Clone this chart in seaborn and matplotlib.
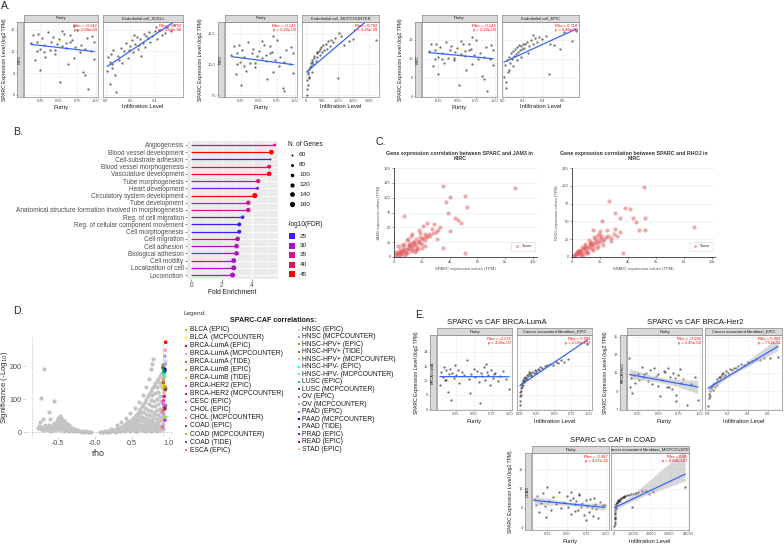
import numpy as np
import pandas as pd
import seaborn as sns
import matplotlib.pyplot as plt
from matplotlib.colors import LinearSegmentedColormap, Normalize
from matplotlib.collections import PolyCollection

sns.set_theme(style="ticks")
plt.rcParams["font.family"] = ["Liberation Sans", "DejaVu Sans"]

W, H = 784, 545

# ---------------- data ----------------
# A: KIRC, SPARC vs purity (same samples in all three A panels)
kirc_purity = [0.12, 0.15, 0.18, 0.2, 0.22, 0.24, 0.25, 0.27, 0.3, 0.32, 0.35, 0.38, 0.4, 0.42, 0.45,
               0.47, 0.5, 0.52, 0.55, 0.57, 0.6, 0.62, 0.65, 0.68, 0.7, 0.72, 0.75, 0.78, 0.8, 0.83,
               0.85, 0.88, 0.9, 0.93, 0.95, 0.98, 0.55, 0.6, 0.3, 0.7, 0.45, 0.85, 0.97, 0.2, 0.65]
kirc_sparc_p = [10.8, 11.5, 9.2, 10.9, 11.6, 10.2, 8.3, 11.2, 10.6, 9.5, 11.8, 10.1, 10.9, 11.3, 9.8,
                10.7, 11.1, 7.2, 10.5, 11.6, 10.3, 8.8, 10.9, 11.0, 9.4, 10.4, 12.0, 9.9, 10.6, 8.1,
                10.2, 11.2, 6.5, 10.0, 11.4, 9.3, 11.9, 10.8, 9.9, 12.3, 10.1, 7.8, 10.9, 10.0, 11.5]
endo_xcell = [0.01, 0.02, 0.03, 0.04, 0.05, 0.06, 0.08, 0.1, 0.12, 0.13, 0.15, 0.16, 0.18, 0.2, 0.21,
              0.22, 0.24, 0.25, 0.26, 0.28, 0.3, 0.31, 0.32, 0.34, 0.35, 0.36, 0.38, 0.4, 0.42, 0.44,
              0.46, 0.48, 0.5, 0.53, 0.56, 0.03, 0.07, 0.11, 0.19, 0.27, 0.33, 0.41, 0.05, 0.23, 0.29]
sparc_xcell = [8.2, 9.5, 7.0, 9.8, 8.8, 10.1, 6.3, 9.6, 10.3, 8.9, 10.0, 10.8, 9.4, 10.5, 11.0,
               9.9, 10.7, 11.3, 10.2, 11.1, 10.8, 11.6, 10.4, 11.2, 11.8, 10.9, 11.4, 11.9, 11.1, 12.0,
               11.5, 11.7, 12.2, 11.9, 12.4, 9.0, 7.8, 9.2, 10.1, 10.6, 11.4, 12.2, 8.5, 11.5, 9.6]
endo_mcp = [10, 20, 30, 40, 60, 80, 100, 120, 150, 180, 200, 230, 260, 300, 330,
            360, 400, 430, 470, 500, 540, 580, 620, 660, 700, 750, 800, 850, 900, 1000,
            1100, 1200, 1350, 1500, 2200, 15, 50, 90, 140, 250, 350, 450, 1050, 70, 180]
sparc_mcp = [6.8, 8.0, 8.7, 7.5, 9.2, 9.6, 8.9, 9.8, 10.1, 9.4, 10.4, 10.0, 10.7, 10.3, 11.0,
             10.6, 11.1, 10.8, 11.4, 11.0, 11.6, 11.2, 11.7, 11.3, 11.9, 11.5, 12.0, 11.8, 12.2, 8.9,
             12.3, 11.6, 11.9, 12.1, 12.0, 7.2, 8.3, 9.0, 9.9, 10.5, 10.9, 11.3, 12.6, 9.4, 10.2]
endo_epic = [0.01, 0.02, 0.03, 0.04, 0.05, 0.06, 0.07, 0.08, 0.09, 0.1, 0.11, 0.12, 0.13, 0.14, 0.15,
             0.16, 0.17, 0.18, 0.19, 0.2, 0.21, 0.22, 0.24, 0.26, 0.28, 0.3, 0.32, 0.34, 0.36, 0.4,
             0.44, 0.48, 0.52, 0.58, 0.62, 0.7, 0.74, 0.03, 0.06, 0.1, 0.14, 0.18, 0.25, 0.3, 0.47]
sparc_epic = [8.0, 9.3, 7.5, 9.8, 8.6, 10.2, 9.5, 10.6, 9.9, 10.8, 10.3, 11.0, 10.5, 11.2, 10.7,
              11.4, 10.9, 11.3, 11.0, 11.6, 11.1, 11.5, 11.8, 11.3, 12.0, 11.6, 12.2, 11.8, 12.3, 12.1,
              12.4, 11.6, 11.4, 11.0, 12.8, 11.9, 12.9, 6.9, 8.8, 9.2, 9.8, 10.2, 10.6, 12.5, 8.4]

# B: GO enrichment
go_terms = ["Angiogenesis", "Blood vessel development", "Cell-substrate adhesion",
            "Blood vessel morphogenesis", "Vasculature development", "Tube morphogenesis",
            "Heart development", "Circulatory system development", "Tube development",
            "Anatomical structure formation involved in morphogenesis", "Reg. of cell migration",
            "Reg. of cellular component movement", "Cell morphogenesis", "Cell migration",
            "Cell adhesion", "Biological adhesion", "Cell motility", "Localization of cell", "Locomotion"]
fold_enrichment = [5.49, 5.27, 5.2, 5.12, 5.12, 4.4, 4.36, 4.18, 3.75, 3.75, 3.38, 3.16, 3.16,
                   3.05, 2.98, 2.98, 2.8, 2.8, 2.72]
n_genes = [75, 140, 60, 110, 140, 120, 80, 160, 130, 130, 100, 110, 110, 135, 135, 135, 145, 150, 150]
neg_log_fdr = [38, 45, 25, 41, 44, 37, 28, 46, 35, 35, 26, 25, 25, 31, 32, 32, 31, 31, 31]
gene_legend = [60, 80, 100, 120, 140, 160]
fdr_legend = [25, 30, 35, 40, 45]

# C: GEPIA correlations in KIRC (TPM)
jam3_sparc = [100, 200, 300, 400, 500, 600, 700, 800, 900, 1000, 1100, 1200, 1300, 1400, 1500, 1600,
              1700, 1800, 1900, 2000, 2100, 2200, 2300, 2400, 2500, 2600, 2800, 3000, 3200,
              400, 700, 1000, 1300, 1600, 1900, 2200, 2700, 3100, 800, 1400, 2000, 300, 1100,
              1500, 1800, 2100, 2400, 600, 900, 1200,
              700, 3520, 4000, 5140, 5240, 8710, 3710, 3880, 5140, 3500, 4000, 4360, 4830, 4600, 2900, 3300,
              250, 450, 650, 850, 1050, 1250, 1450, 1650, 1850, 2050, 2250, 150, 350, 550, 750, 950,
              1150, 1350, 1550, 1750]
jam3_expr = [2, 5, 4, 8, 7, 10, 12, 9, 14, 13, 16, 18, 15, 20, 22, 19,
             25, 27, 24, 30, 32, 28, 35, 33, 38, 36, 40, 42, 45,
             14, 22, 30, 38, 12, 40, 18, 48, 30, 3, 25, 15, 18, 20,
             8, 45, 52, 58, 20, 28, 35,
             69, 120, 101, 102, 85, 116, 92, 74, 6, 15, 43, 65, 57, 62, 55, 50,
             6, 3, 11, 6, 20, 10, 26, 14, 33, 22, 38, 8, 9, 5, 17, 6,
             24, 11, 31, 16]
rhoj_sparc = [100, 200, 300, 400, 500, 600, 700, 800, 900, 1000, 1100, 1200, 1300, 1400, 1500, 1600,
              1700, 1800, 1900, 2000, 2100, 2200, 2400, 2600, 2800, 3000, 3200, 3400,
              400, 700, 1000, 1300, 1600, 1900, 2200, 2500, 2800, 3100,
              600, 900, 1200, 1500, 1800, 2000, 2300, 1500,
              2650, 3800, 4130, 5130, 5200, 8680, 5200, 4790, 3620, 2130, 3430, 3090, 4370, 4600,
              250, 450, 650, 850, 1050, 1250, 1450, 1650, 1850, 2050, 150, 350, 550, 750, 950, 1150, 1350, 1750]
rhoj_expr = [2, 3, 5, 4, 7, 8, 6, 10, 12, 9, 14, 13, 16, 18, 15, 20,
             22, 19, 24, 21, 26, 23, 28, 30, 27, 33, 29, 35,
             9, 14, 5, 20, 28, 33, 17, 38, 22, 40,
             4, 18, 24, 10, 30, 36, 25, 38,
             79, 69, 68, 98, 55, 42, 38, 38, 5, 51, 55, 62, 55, 49,
             4, 8, 3, 13, 7, 18, 11, 25, 15, 30, 1, 6, 10, 3, 15, 5, 21, 12]

# D: pan-cancer volcano (rho, -log10 p)
volcano_right = [(0.08, 0.5), (0.10, 1), (0.12, 0.5), (0.14, 2), (0.16, 1), (0.18, 3), (0.20, 1), (0.20, 4),
                 (0.22, 2), (0.24, 5), (0.26, 3), (0.26, 7), (0.28, 1), (0.28, 5), (0.30, 9), (0.30, 3),
                 (0.32, 6), (0.32, 12), (0.34, 2), (0.34, 9), (0.36, 15), (0.36, 5), (0.38, 11), (0.38, 18),
                 (0.40, 3), (0.40, 8), (0.40, 14), (0.40, 21), (0.42, 25), (0.42, 12), (0.44, 5), (0.44, 18),
                 (0.44, 29), (0.46, 10), (0.46, 24), (0.46, 33), (0.48, 2), (0.48, 15), (0.48, 30), (0.50, 8),
                 (0.50, 22), (0.50, 38), (0.52, 14), (0.52, 30), (0.52, 44), (0.54, 4), (0.54, 20), (0.54, 36),
                 (0.54, 50), (0.56, 10), (0.56, 28), (0.56, 45), (0.58, 3), (0.58, 18), (0.58, 38), (0.58, 56),
                 (0.60, 8), (0.60, 25), (0.60, 48), (0.60, 63), (0.62, 14), (0.62, 35), (0.62, 58), (0.62, 70),
                 (0.64, 5), (0.64, 22), (0.64, 45), (0.64, 78), (0.66, 12), (0.66, 32), (0.66, 60), (0.66, 85),
                 (0.68, 3), (0.68, 20), (0.68, 42), (0.68, 72), (0.68, 92), (0.70, 10), (0.70, 30), (0.70, 55),
                 (0.70, 100), (0.72, 6), (0.72, 18), (0.72, 40), (0.72, 68), (0.72, 108), (0.74, 12), (0.74, 28),
                 (0.74, 52), (0.74, 85), (0.74, 116), (0.76, 4), (0.76, 22), (0.76, 38), (0.76, 65), (0.76, 98),
                 (0.76, 124), (0.78, 10), (0.78, 30), (0.78, 50), (0.78, 80), (0.78, 112), (0.78, 132), (0.80, 6),
                 (0.80, 18), (0.80, 42), (0.80, 62), (0.80, 95), (0.80, 140), (0.82, 12), (0.82, 28), (0.82, 55),
                 (0.82, 78), (0.82, 118), (0.82, 148), (0.84, 4), (0.84, 20), (0.84, 40), (0.84, 68), (0.84, 100),
                 (0.84, 135), (0.84, 155), (0.86, 10), (0.86, 30), (0.86, 52), (0.86, 85), (0.86, 122), (0.86, 162),
                 (0.88, 6), (0.88, 18), (0.88, 45), (0.88, 70), (0.88, 110), (0.88, 150), (0.88, 170), (0.90, 12),
                 (0.90, 35), (0.90, 60), (0.90, 95), (0.90, 140), (0.90, 175), (0.92, 8), (0.92, 25), (0.92, 50),
                 (0.92, 130),
                 (0.22, 10), (0.30, 20), (0.36, 30), (0.42, 44), (0.48, 58), (0.54, 74), (0.60, 92), (0.65, 112),
                 (0.70, 135), (0.73, 160), (0.76, 190), (0.78, 205), (0.79, 222)]
volcano_left = [(-0.05, 0.5), (-0.07, 1), (-0.09, 0.5), (-0.11, 2), (-0.13, 1), (-0.15, 3), (-0.17, 1),
                (-0.19, 4), (-0.21, 2), (-0.23, 6), (-0.25, 3), (-0.27, 8), (-0.29, 2), (-0.29, 10), (-0.31, 5),
                (-0.31, 13), (-0.33, 8), (-0.33, 16), (-0.35, 3), (-0.35, 12), (-0.35, 20), (-0.37, 6),
                (-0.37, 17), (-0.37, 24), (-0.39, 10), (-0.39, 22), (-0.39, 28), (-0.41, 4), (-0.41, 15),
                (-0.41, 33), (-0.43, 8), (-0.43, 20), (-0.43, 38), (-0.45, 12), (-0.45, 28), (-0.45, 44),
                (-0.47, 5), (-0.47, 18), (-0.47, 35), (-0.47, 50), (-0.49, 10), (-0.49, 25), (-0.49, 42),
                (-0.51, 15), (-0.51, 32), (-0.53, 6), (-0.53, 20), (-0.55, 12), (-0.55, 26), (-0.57, 8),
                (-0.57, 18), (-0.59, 4), (-0.59, 14), (-0.61, 10), (-0.61, 22), (-0.63, 6), (-0.63, 16),
                (-0.65, 12), (-0.67, 8), (-0.67, 20), (-0.69, 5), (-0.71, 14), (-0.73, 10), (-0.75, 18),
                (-0.77, 12), (-0.74, 30), (-0.70, 40), (-0.62, 60), (-0.55, 95), (-0.72, 103), (-0.69, 192),
                (-0.60, 40)]
caf_names = ["BLCA (EPIC)", "BLCA  (MCPCOUNTER)", "BRCA-LumA (EPIC)", "BRCA-LumA (MCPCOUNTER)",
             "BRCA-LumA (TIDE)", "BRCA-LumB (EPIC)", "BRCA-LumB (TIDE)", "BRCA-HER2 (EPIC)",
             "BRCA-HER2 (MCPCOUNTER)", "CESC (EPIC)", "CHOL (EPIC)", "CHOL (MCPCOUNTER)", "COAD (EPIC)",
             "COAD (MCPCOUNTER)", "COAD (TIDE)", "ESCA (EPIC)",
             "HNSC (EPIC)", "HNSC (MCPCOUNTER)", "HNSC-HPV+ (EPIC)", "HNSC-HPV+ (TIDE)",
             "HNSC-HPV+ (MCPCOUNTER)", "HNSC-HPV- (EPIC)", "HNSC-HPV- (MCPCOUNTER)", "LUSC (EPIC)",
             "LUSC (MCPCOUNTER)", "OV (EPIC)", "OV (MCPCOUNTER)", "PAAD (EPIC)", "PAAD (MCPCOUNTER)",
             "PAAD (TIDE)", "PRAD (EPIC)", "READ (EPIC)", "STAD (EPIC)"]
caf_colors = ["#b5c400", "#ffee00", "#ff0000", "#ff99cc", "#ff5522", "#ff6633", "#ff9944", "#cc33ff",
              "#e6007e", "#ff3399", "#99aaff", "#ff6680", "#556b2f", "#d4a017", "#8b5a2b", "#e87080",
              "#ccccff", "#9999ff", "#88aa33", "#996633", "#99dd66", "#00ffff", "#66dddd", "#22cc44",
              "#118833", "#cc66cc", "#cc99dd", "#9966ff", "#000080", "#8833aa", "#1144aa", "#aa2222",
              "#ffbb88"]
caf_rho = [0.95, 0.93, 0.96, 0.955, 0.93, 0.94, 0.93, 0.95, 0.94, 0.93, 0.95, 0.92, 0.96, 0.95, 0.955,
           0.92, 0.96, 0.955, 0.935, 0.93, 0.96, 0.94, 0.945, 0.93, 0.925, 0.93, 0.935, 0.96, 0.95, 0.945,
           0.95, 0.95, 0.94]
caf_sig = [40, 140, 272, 248, 203, 75, 160, 36, 108, 95, 230, 62, 132, 138, 128, 15, 215, 205, 188, 150,
           45, 176, 168, 182, 195, 85, 55, 80, 190, 70, 185, 72, 118]

# E: SPARC vs CAF
luma_purity = [0.03, 0.05, 0.07, 0.09, 0.1, 0.12, 0.14, 0.15, 0.17, 0.19, 0.2, 0.22, 0.24, 0.26, 0.28,
               0.3, 0.33, 0.36, 0.4, 0.43, 0.46, 0.5, 0.52, 0.55, 0.57, 0.6, 0.62, 0.64, 0.66, 0.68,
               0.7, 0.72, 0.74, 0.76, 0.78, 0.8, 0.83, 0.86, 0.9, 0.95, 0.99, 0.12, 0.58, 0.67, 0.45]
luma_sparc_p = [9.3, 11.2, 10.5, 11.8, 10.0, 11.4, 8.4, 10.9, 11.6, 7.3, 11.0, 10.3, 12.1, 10.7, 11.5,
                9.6, 11.2, 10.8, 12.8, 10.2, 10.9, 11.6, 10.5, 11.3, 9.8, 11.0, 10.6, 11.8, 10.1, 11.2,
                10.7, 9.4, 11.5, 10.3, 10.9, 11.1, 9.9, 10.6, 11.3, 10.2, 8.8, 10.0, 6.9, 12.3, 8.3]
luma_caf = [0.0, 0.005, 0.01, 0.01, 0.015, 0.02, 0.02, 0.03, 0.03, 0.04, 0.05, 0.06, 0.07, 0.08, 0.09,
            0.1, 0.12, 0.13, 0.15, 0.16, 0.18, 0.2, 0.22, 0.24, 0.26, 0.28, 0.3, 0.33, 0.36, 0.4,
            0.44, 0.48, 0.52, 0.55, 0.6, 0.65, 0.7, 0.98, 0.04, 0.11, 0.17, 0.23, 0.06, 0.02, 0.14]
luma_sparc_c = [6.6, 7.2, 7.8, 8.4, 8.0, 8.9, 9.3, 9.6, 9.1, 9.9, 10.1, 10.3, 10.0, 10.5, 10.4,
                10.7, 10.6, 10.9, 11.0, 10.8, 11.2, 11.1, 11.4, 11.3, 11.6, 11.5, 11.8, 11.7, 12.0, 12.1,
                12.3, 12.2, 12.6, 12.4, 12.9, 12.5, 13.0, 15.0, 9.4, 10.2, 10.6, 11.0, 9.8, 8.6, 11.2]
her2_purity = [0.15, 0.16, 0.18, 0.2, 0.22, 0.25, 0.27, 0.3, 0.32, 0.35, 0.37, 0.4, 0.42, 0.45, 0.47,
               0.5, 0.52, 0.55, 0.57, 0.6, 0.62, 0.64, 0.66, 0.68, 0.7, 0.72, 0.74, 0.76, 0.78, 0.8,
               0.85, 0.9, 0.95, 0.98, 0.17, 0.33, 0.5, 0.58, 0.63, 0.71]
her2_sparc_p = [12.7, 9.4, 8.8, 10.8, 9.9, 10.9, 10.2, 11.7, 10.5, 11.0, 10.1, 11.3, 9.8, 11.6, 10.7,
                10.9, 8.4, 10.2, 11.2, 9.5, 11.5, 10.6, 9.2, 11.0, 10.4, 8.6, 10.8, 11.4, 9.9, 10.3,
                7.4, 9.8, 10.5, 8.0, 10.4, 10.9, 9.6, 11.1, 9.4, 7.9]
her2_caf = [0.0, 0.01, 0.01, 0.02, 0.02, 0.03, 0.04, 0.05, 0.06, 0.07, 0.08, 0.09, 0.1, 0.11, 0.12,
            0.13, 0.14, 0.15, 0.16, 0.18, 0.2, 0.22, 0.24, 0.26, 0.28, 0.3, 0.33, 0.36, 0.4, 0.44,
            0.48, 0.52, 0.56, 0.62, 0.7, 0.05, 0.09, 0.17]
her2_sparc_c = [7.3, 8.2, 8.7, 9.0, 8.5, 9.3, 9.6, 9.1, 9.9, 9.5, 10.0, 10.3, 10.1, 10.6, 10.4,
                10.7, 10.9, 11.0, 10.6, 11.2, 11.0, 11.4, 11.3, 11.6, 11.5, 11.8, 12.0, 11.9, 12.2, 12.3,
                12.5, 12.4, 12.7, 12.6, 12.8, 9.8, 9.7, 10.8]
coad_purity = [0.08, 0.1, 0.12, 0.15, 0.17, 0.2, 0.22, 0.25, 0.27, 0.3, 0.33, 0.36, 0.4, 0.43, 0.46,
               0.5, 0.52, 0.54, 0.56, 0.58, 0.6, 0.62, 0.64, 0.66, 0.68, 0.7, 0.72, 0.74, 0.76, 0.78,
               0.8, 0.82, 0.84, 0.86, 0.88, 0.9, 0.93, 0.96, 0.99, 0.23, 0.55, 0.65, 0.75, 0.85, 0.6]
coad_sparc_p = [9.8, 8.6, 10.4, 7.2, 9.1, 11.0, 8.3, 12.3, 9.5, 7.6, 10.2, 8.9, 11.4, 7.9, 9.3,
                10.5, 8.1, 9.7, 6.8, 10.1, 8.7, 9.4, 7.5, 10.8, 8.2, 9.0, 6.6, 9.6, 8.4, 7.1,
                9.9, 8.0, 6.4, 8.8, 7.7, 5.8, 9.2, 8.5, 8.6, 6.2, 11.2, 10.6, 5.4, 10.0, 7.3]
coad_caf = [50, 100, 150, 200, 250, 300, 400, 500, 600, 700, 800, 1000, 1200, 1500, 1800,
            2100, 2500, 3000, 3500, 4000, 4500, 5000, 5500, 6000, 7000, 8000, 9000, 10000, 11000, 17000,
            19000, 21000, 38500, 9500, 300, 150, 450, 900, 2000, 3000, 13000, 15000, 12000]
coad_sparc_c = [4.2, 5.0, 5.6, 6.2, 6.8, 7.3, 7.6, 8.0, 8.3, 8.5, 8.7, 8.9, 9.1, 9.3, 9.4,
                9.6, 9.7, 9.9, 10.0, 10.1, 10.2, 10.3, 10.4, 10.5, 10.6, 10.7, 10.8, 10.9, 11.0, 11.5,
                10.9, 11.2, 12.3, 8.2, 5.8, 4.6, 7.0, 8.0, 9.2, 9.5, 11.3, 11.6, 11.1]


# ---------------- layout helpers ----------------
def px_rect(x0, y0, x1, y1):
    return [x0 / W, 1 - y1 / H, (x1 - x0) / W, (y1 - y0) / H]


fig = plt.figure(figsize=(W / 100, H / 100), dpi=100)
ov = fig.add_axes([0, 0, 1, 1])
ov.set_axis_off()
ov.set_xlim(0, W)
ov.set_ylim(H, 0)
ov.set_zorder(10)


def style_strip(ax):
    ax.set_facecolor("#d9d9d9")
    ax.set_xticks([])
    ax.set_yticks([])
    for s in ax.spines.values():
        s.set_color("#8c8c8c")
        s.set_linewidth(0.5)


def timer_panel(ylab_x, row_box, row_label, boxes, specs, ylim, yticks, ytl, xlab_y, strip_h=7, ci=None):
    for box, sp in zip(boxes, specs):
        x0, y0, x1, y1 = box
        ax = fig.add_axes(px_rect(*box))
        ax.set_facecolor("white")
        sns.regplot(x=sp["x"], y=sp["y"], ax=ax, ci=ci, seed=0, n_boot=300,
                    scatter_kws=dict(s=2.8, color="#1a1a1a", alpha=0.6, linewidths=0),
                    line_kws=dict(color="#3366ff", lw=0.9))
        for c in ax.collections:
            if isinstance(c, PolyCollection):
                c.set_facecolor("#8f8f8f")
                c.set_alpha(0.35)
        ax.set_xlim(sp["xlim"])
        ax.set_ylim(ylim)
        ax.set_xticks(sp["xticks"], sp["xtl"])
        ax.set_yticks(yticks)
        ax.set_yticklabels([])
        ax.tick_params(axis="x", bottom=True, labelsize=2.8, length=1.0, width=0.4, pad=0.5,
                       colors="#4d4d4d")
        ax.tick_params(axis="y", left=False)
        ax.grid(True, color="#ebebeb", lw=0.4)
        ax.set_axisbelow(True)
        ax.set_xlabel("")
        ax.set_ylabel("")
        for s in ax.spines.values():
            s.set_visible(True)
            s.set_color("#8c8c8c")
            s.set_linewidth(0.5)
        ax.text(0.98, 0.97, sp["stats"], transform=ax.transAxes, ha="right", va="top",
                color="red", fontsize=3, linespacing=0.95)
        sax = fig.add_axes(px_rect(x0, y0 - strip_h, x1, y0))
        style_strip(sax)
        sax.text(0.5, 0.5, sp["strip"], ha="center", va="center", fontsize=3, color="#1a1a1a",
                 transform=sax.transAxes, clip_on=True)
        ov.text((x0 + x1) / 2, xlab_y, sp["xlabel"], ha="center", va="center", fontsize=4.2,
                color="#1a1a1a")
    rax = fig.add_axes(px_rect(*row_box))
    style_strip(rax)
    rax.set_ylim(ylim)
    rax.set_yticks(yticks, ytl)
    rax.tick_params(axis="y", left=True, labelsize=2.8, length=1.0, width=0.4, pad=0.6, colors="#4d4d4d")
    rax.text(0.5, 0.5, row_label, rotation=90, ha="center", va="center", fontsize=2.8,
             color="#1a1a1a", transform=rax.transAxes, clip_on=True)
    ov.text(ylab_x, (row_box[1] + row_box[3]) / 2, "SPARC Expression Level (log2 TPM)", rotation=90,
            ha="center", va="center", fontsize=3.6, color="#1a1a1a")


purity_ticks = [0.25, 0.5, 0.75, 1.0]
purity_tl = ["0.25", "0.50", "0.75", "1.00"]
kirc_p_spec = dict(x=kirc_purity, y=kirc_sparc_p, xlim=(0.03, 1.03), xticks=purity_ticks, xtl=purity_tl,
                   strip="Purity", stats="Rho = -0.142\np = 2.28e-03", xlabel="Purity")

# ---------------- A ----------------
ov.text(1, 6, "A.", fontsize=7.5, ha="left", va="center")
timer_panel(4.5, (17, 22, 23, 97), "KIRC", [(24, 22, 98, 97), (103, 22, 183, 97)],
            [kirc_p_spec,
             dict(x=endo_xcell, y=sparc_xcell, xlim=(-0.025, 0.63), xticks=[0, 0.2, 0.4],
                  xtl=["0.0", "0.2", "0.4"], strip="Endothelial cell_XCELL",
                  stats="Rho = 0.752\np = 3.66e-96", xlabel="Infiltration Level")],
            (5.8, 12.7), [6, 8, 10, 12], ["6", "8", "10", "12"], 107)
timer_panel(201, (218, 22, 224, 97), "KIRC", [(225, 22, 297, 97), (302, 22, 379, 97)],
            [kirc_p_spec,
             dict(x=endo_mcp, y=sparc_mcp, xlim=(-130, 2310), xticks=[0, 500, 1000, 1500, 2000],
                  xtl=["0", "500", "1000", "1500", "2000"], strip="Endothelial cell_MCPCOUNTER",
                  stats="Rho = 0.762\np = 3.36e-99", xlabel="Infiltration Level")],
            (7.34, 13.47), [7.5, 10, 12.5], ["7.5", "10.0", "12.5"], 107)
timer_panel(401, (415, 22, 421, 97), "KIRC", [(422, 22, 497, 97), (502, 22, 579, 97)],
            [kirc_p_spec,
             dict(x=endo_epic, y=sparc_epic, xlim=(-0.01, 0.77), xticks=[0, 0.2, 0.4, 0.6],
                  xtl=["0.0", "0.2", "0.4", "0.6"], strip="Endothelial cell_EPIC",
                  stats="Rho = 0.718\np = 2.46e-84", xlabel="Infiltration Level")],
            (5.9, 13.9), [6, 8, 10, 12], ["6", "8", "10", "12"], 107)

# ---------------- B ----------------
ov.text(13, 132, "B.", fontsize=7.5, ha="left", va="center")
fdr_cmap = LinearSegmentedColormap.from_list(
    "fdr", [(0, "#3b1cff"), (0.25, "#a010d8"), (0.5, "#d4109f"), (0.75, "#f0085c"), (1, "#ff0000")])
fdr_norm = Normalize(25, 45)
df_b = pd.DataFrame(dict(term=go_terms, fold=fold_enrichment, genes=n_genes, fdr=neg_log_fdr))
df_b["pos"] = range(len(df_b))
ax_b = fig.add_axes(px_rect(187, 141, 278, 279))
ax_b.set_facecolor("#ebebeb")
ax_b.hlines(df_b["pos"], 0, df_b["fold"], colors=[fdr_cmap(fdr_norm(v)) for v in df_b["fdr"]],
            lw=0.9, zorder=2)
sns.scatterplot(data=df_b, x="fold", y="pos", hue="fdr", palette=fdr_cmap, hue_norm=fdr_norm,
                size="genes", sizes=(2, 14), size_norm=(60, 160), legend=False, linewidth=0,
                ax=ax_b, zorder=3)
ax_b.set_yticks(df_b["pos"], go_terms)
ax_b.set_ylim(len(df_b) - 0.45, -0.55)
ax_b.set_xlim(-0.27, 5.7)
ax_b.set_xticks([0, 2, 4], ["0", "2", "4"])
ax_b.set_xticks([1, 3, 5], minor=True)
ax_b.grid(True, which="major", color="white", lw=0.6)
ax_b.grid(True, which="minor", axis="x", color="white", lw=0.3)
ax_b.set_axisbelow(True)
ax_b.tick_params(axis="both", which="major", labelsize=4.7, labelcolor="#4d4d4d", length=1.5,
                 width=0.4, color="#333333", pad=1, left=True, bottom=True)
ax_b.tick_params(axis="x", which="minor", length=0)
ax_b.set_xlabel("")
ax_b.set_ylabel("")
for s in ax_b.spines.values():
    s.set_visible(False)
ov.text(232, 293, "Fold Enrichment", fontsize=4.8, ha="center", va="center", color="#1a1a1a")
ov.text(288, 144, "N. of Genes", fontsize=4.7, ha="left", va="center", color="#1a1a1a")
for g, yy in zip(gene_legend, [155, 165, 174.5, 184.5, 194, 204]):
    ov.scatter(292, yy, s=2 + (g - 60) / 100 * 12, color="black", linewidths=0)
    ov.text(299, yy, str(g), fontsize=4.6, ha="left", va="center", color="#1a1a1a")
ov.text(288, 224, "-log10(FDR)", fontsize=4.7, ha="left", va="center", color="#1a1a1a")
for v, yy in zip(fdr_legend, [236, 245.5, 255, 264.5, 274]):
    ov.scatter(292, yy, s=18, marker="s", color=fdr_cmap(fdr_norm(v)), linewidths=0)
    ov.text(300, yy, str(v), fontsize=4.6, ha="left", va="center", color="#1a1a1a")

# ---------------- C ----------------
ov.text(376, 142, "C.", fontsize=7.5, ha="left", va="center")


def corr_panel(box, xs, ys, xmax, ymax, yticks, ylabel, title, title_x):
    ax = fig.add_axes(px_rect(*box))
    sns.scatterplot(x=xs, y=ys, ax=ax, color="#e15759", alpha=0.5, s=9, linewidth=0, label="Tumor")
    ax.set_xlim(0, xmax)
    ax.set_ylim(0, ymax)
    ax.set_xticks([0, 2000, 4000, 6000, 8000, 10000], ["0", "2k", "4k", "6k", "8k", "10k"])
    ax.set_yticks(yticks, [str(t) for t in yticks])
    ax.grid(True, axis="y", color="#e6e6e6", lw=0.4)
    ax.set_axisbelow(True)
    ax.tick_params(labelsize=3, length=1.2, width=0.4, pad=1, colors="#4d4d4d", left=True, bottom=True)
    for side in ["top", "right"]:
        ax.spines[side].set_visible(False)
    for side in ["left", "bottom"]:
        ax.spines[side].set_color("#333333")
        ax.spines[side].set_linewidth(0.6)
    ax.set_xlabel("SPARC expression values (TPM)", fontsize=3, color="#4d4d4d", labelpad=2)
    ax.set_ylabel(ylabel, fontsize=2.8, color="#4d4d4d", labelpad=2)
    leg = ax.legend(loc="lower right", bbox_to_anchor=(1.0, 0.05), fontsize=2.6, frameon=True,
                    fancybox=False, borderpad=0.7, handletextpad=0.4, markerscale=0.7)
    leg.get_frame().set_linewidth(0.4)
    leg.get_frame().set_edgecolor("#cccccc")
    ov.text(title_x, 155.5, title, ha="center", va="center", fontsize=3.8, fontweight="bold",
            color="#333333", linespacing=1.0)


corr_panel((394, 168, 537, 257), jam3_sparc, jam3_expr, 10290, 150, [0, 25, 50, 75, 100, 125, 150],
           "JAM3 expression values (TPM)",
           "Gene expression correlation between SPARC and JAM3 in\nKIRC", 460)
corr_panel((572, 168, 715, 257), rhoj_sparc, rhoj_expr, 10210, 125, [0, 25, 50, 75, 100, 125],
           "RHOJ expression values (TPM)",
           "Gene expression correlation between SPARC and RHOJ in\nKIRC", 634)

# ---------------- D ----------------
ov.text(13, 311, "D.", fontsize=7.5, ha="left", va="center")
grey_pts = pd.DataFrame(volcano_right + volcano_left, columns=["rho", "sig"])
df_caf = pd.DataFrame(dict(name=caf_names, rho=caf_rho, sig=caf_sig))
ax_d = fig.add_axes(px_rect(25, 337, 173, 437))
ax_d.axvline(-0.85, ls=":", color="#aaaaaa", lw=0.6)
ax_d.axvline(0.92, ls=":", color="#aaaaaa", lw=0.6)
ax_d.axhline(1.3, ls=":", color="#aaaaaa", lw=0.6)
sns.scatterplot(data=grey_pts, x="rho", y="sig", color="#c4c4c4", s=9, linewidth=0, ax=ax_d)
sns.scatterplot(data=df_caf, x="rho", y="sig", hue="name", palette=dict(zip(caf_names, caf_colors)),
                s=7, linewidth=0, legend=False, ax=ax_d)
ax_d.set_xlim(-0.94, 1.06)
ax_d.set_ylim(-15, 288)
ax_d.set_xticks([-0.5, 0.0, 0.5, 1.0], ["-0.5", "-0.0", "0.5", "1.0"])
ax_d.set_yticks([0, 100, 200], ["0", "100", "200"])
ax_d.tick_params(labelsize=5.2, labelcolor="#4d4d4d", length=1.2, width=0.4, color="#999999", pad=1.2)
for s in ax_d.spines.values():
    s.set_visible(False)
ax_d.set_xlabel("")
ax_d.set_ylabel("")
ov.text(98, 453, "rho", fontsize=6.5, ha="center", va="center", color="#333333")
ov.text(5, 387, "Significance (-Log$_{10}$)", fontsize=5.6, rotation=90, ha="center", va="center",
        color="#333333")

ov.text(184, 314, "Legend:", fontsize=4.6, ha="left", va="center", color="#333333")
ov.text(230, 321, "SPARC-CAF correlations:", fontsize=5.1, fontweight="bold", ha="left", va="center",
        color="#1a1a1a")
for i, (nm, col) in enumerate(zip(caf_names, caf_colors)):
    if i < 16:
        xm, yy = 186.5, 329.5 + i * 8.04
    else:
        xm, yy = 299, 329.5 + (i - 16) * 7.48
    ov.scatter(xm, yy, s=2.5, marker="s", color=col, linewidths=0)
    ov.text(xm + 3.5, yy, nm, fontsize=4.9, ha="left", va="center", color="#1a1a1a")

# ---------------- E ----------------
ov.text(415, 315, "E.", fontsize=7.5, ha="left", va="center")
ov.text(497, 322, "SPARC vs CAF BRCA-LumA", fontsize=5.6, ha="center", va="center", color="#1a1a1a")
ov.text(695, 322, "SPARC vs CAF BRCA-Her2", fontsize=5.6, ha="center", va="center", color="#1a1a1a")
ov.text(613, 441, "SPARC vs CAF in COAD", fontsize=5.6, ha="center", va="center", color="#1a1a1a")

timer_panel(417, (430, 335, 436, 410), "BRCA-LumA", [(437, 335, 512, 410), (517, 335, 592, 410)],
            [dict(x=luma_purity, y=luma_sparc_p, xlim=(-0.01, 1.03), xticks=purity_ticks, xtl=purity_tl,
                  strip="Purity", stats="Rho = -0.172\np = 3.95e-07", xlabel="Purity"),
             dict(x=luma_caf, y=luma_sparc_c, xlim=(-0.04, 1.05), xticks=[0, 0.25, 0.5, 0.75, 1.0],
                  xtl=["0.00", "0.25", "0.50", "0.75", "1.00"], strip="Cancer associated fibroblast_EPIC",
                  stats="Rho = 0.906\np = 2.03e-192", xlabel="Infiltration Level")],
            (5.9, 16.3), [6, 8, 10, 12, 14], ["6", "8", "10", "12", "14"], 421.5)
timer_panel(606, (620, 335, 626, 410), "BRCA-Her2", [(627, 335, 702, 410), (705, 335, 782, 410)],
            [dict(x=her2_purity, y=her2_sparc_p, xlim=(0.12, 1.03), xticks=purity_ticks, xtl=purity_tl,
                  strip="Purity", stats="Rho = -0.138\np = 2.45e-02", xlabel="Purity"),
             dict(x=her2_caf, y=her2_sparc_c, xlim=(-0.03, 0.74), xticks=[0, 0.2, 0.4, 0.6],
                  xtl=["0.0", "0.2", "0.4", "0.6"], strip="Cancer associated fibroblast_EPIC",
                  stats="Rho = 0.909\np = 7.62e-31", xlabel="Infiltration Level")],
            (6.9, 15.2), [7, 9, 11, 13, 15], ["7", "9", "11", "13", "15"], 421.5, ci=95)
timer_panel(511, (525, 453, 531, 530), "COAD", [(532, 453, 609, 530), (611, 453, 689, 530)],
            [dict(x=coad_purity, y=coad_sparc_p, xlim=(0.055, 1.04), xticks=purity_ticks, xtl=purity_tl,
                  strip="Purity", stats="Rho = -0.367\np = 4.07e-16", xlabel="Purity"),
             dict(x=coad_caf, y=coad_sparc_c, xlim=(-1800, 40500), xticks=[0, 10000, 20000, 30000, 40000],
                  xtl=["0", "10000", "20000", "30000", "40000"],
                  strip="Cancer associated fibroblast_MCPCOUNTER",
                  stats="Rho = 0.85\np = 6.84e-127", xlabel="Infiltration Level")],
            (3.4, 19.4), [4, 8, 12, 16], ["4", "8", "12", "16"], 541.5, ci=95)

fig.savefig("out.png", dpi=100)
